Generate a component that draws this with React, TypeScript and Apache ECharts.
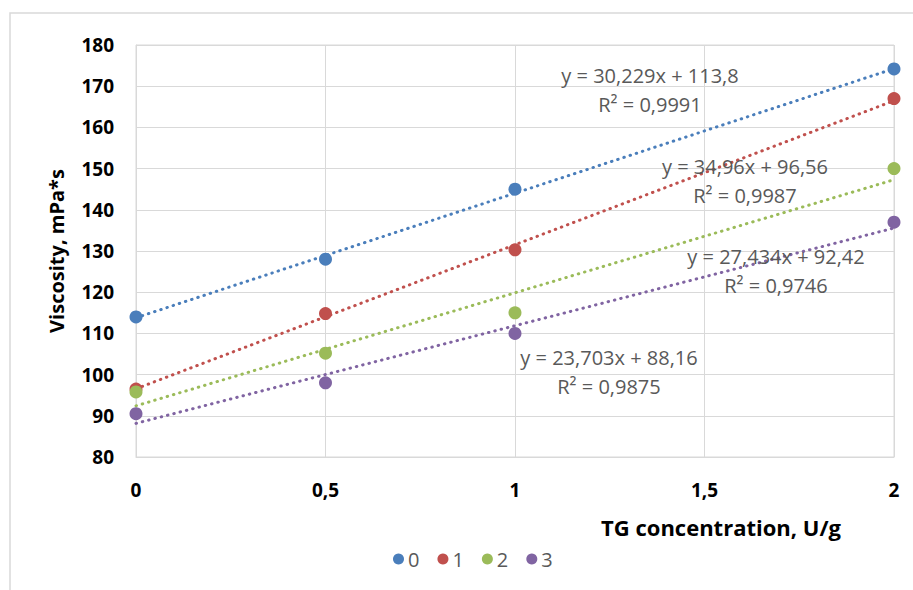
import React, { useEffect, useRef } from "react";
import * as echarts from "echarts";

const seriesNames = ["0", "1", "2", "3"];
const colors = ["#4a7ebb", "#c0504d", "#9bbb59", "#8064a2"];
const xValues = [0, 0.5, 1, 2];
const viscosity0 = [114, 128, 145, 174.2];
const viscosity1 = [96.5, 114.8, 130.3, 167];
const viscosity2 = [95.8, 105.2, 115, 150];
const viscosity3 = [90.5, 98, 110, 137];
const trendStart = [113.8, 96.56, 92.42, 88.16];
const trendEnd = [174.26, 166.48, 147.29, 135.57];
const equations = [
  "y = 30,229x + 113,8",
  "y = 34,96x + 96,56",
  "y = 27,434x + 92,42",
  "y = 23,703x + 88,16",
];
const r2Labels = ["R² = 0,9991", "R² = 0,9987", "R² = 0,9746", "R² = 0,9875"];
const xTickLabels: Record<string, string> = { "0": "0", "0.5": "0,5", "1": "1", "1.5": "1,5", "2": "2" };

const labelPos = [
  [650, 75],
  [745, 166],
  [776, 256],
  [609, 357],
];

export default function App() {
  const ref = useRef<HTMLDivElement>(null);
  useEffect(() => {
    if (!ref.current) return;
    const chart = echarts.init(ref.current, undefined, { renderer: "svg" });
    const all = [viscosity0, viscosity1, viscosity2, viscosity3];
    const font = "'Open Sans', sans-serif";
    const trendSeries = all.map((_, i) => ({
      name: "trend" + i,
      type: "line",
      data: [
        [xValues[0], trendStart[i]],
        [xValues[xValues.length - 1], trendEnd[i]],
      ],
      symbol: "none",
      lineStyle: { color: colors[i], width: 3, type: [0.5, 6], cap: "round" },
      z: 2,
      silent: true,
    }));
    const scatterSeries = all.map((vals, i) => ({
      name: seriesNames[i],
      type: "scatter",
      data: vals.map((v, j) => [xValues[j], v]),
      symbol: "circle",
      symbolSize: 13,
      itemStyle: { color: colors[i], opacity: 1 },
      z: 3,
    }));
    const graphics: any[] = [
      {
        type: "rect",
        shape: { x: 10, y: 13, width: 940, height: 620 },
        style: { fill: "none", stroke: "#d9d9d9", lineWidth: 1.5 },
        silent: true,
      },
      {
        type: "text",
        x: 721,
        y: 527,
        style: {
          text: "TG concentration, U/g",
          font: `bold 22px ${font}`,
          fill: "#000",
          align: "center",
          verticalAlign: "middle",
        },
      },
    ];
    equations.forEach((eq, i) => {
      graphics.push({
        type: "text",
        x: labelPos[i][0],
        y: labelPos[i][1],
        style: { text: eq, font: `20px ${font}`, fill: "#595959", align: "center", verticalAlign: "middle" },
        z: 10,
      });
      graphics.push({
        type: "text",
        x: labelPos[i][0],
        y: labelPos[i][1] + 29,
        style: { text: r2Labels[i], font: `20px ${font}`, fill: "#595959", align: "center", verticalAlign: "middle" },
        z: 10,
      });
    });
    chart.setOption({
      animation: false,
      backgroundColor: "#fff",
      grid: { left: 136, top: 45, width: 758, height: 412, show: true, borderColor: "#d9d9d9", borderWidth: 1 },
      legend: {
        data: seriesNames.map((n) => ({ name: n, icon: "circle" })),
        left: 388,
        top: 544,
        itemWidth: 11,
        itemHeight: 11,
        itemGap: 18,
        textStyle: { fontSize: 20, color: "#595959", fontFamily: font, padding: [0, 0, 0, -1] },
      },
      xAxis: {
        type: "value",
        min: 0,
        max: 2,
        interval: 0.5,
        axisLine: { show: true, lineStyle: { color: "#d9d9d9" } },
        axisTick: { show: false },
        splitLine: { show: true, lineStyle: { color: "#d9d9d9", width: 1 } },
        axisLabel: {
          margin: 23,
          fontSize: 19,
          fontWeight: "bold",
          color: "#000",
          fontFamily: font,
          formatter: (v: number) => xTickLabels[String(v)] ?? String(v),
        },
      },
      yAxis: {
        type: "value",
        min: 80,
        max: 180,
        interval: 10,
        name: "Viscosity, mPa*s",
        nameLocation: "middle",
        nameGap: 70,
        nameTextStyle: { fontSize: 20, fontWeight: "bold", color: "#000", fontFamily: font },
        axisLine: { show: true, lineStyle: { color: "#d9d9d9" } },
        axisTick: { show: false },
        splitLine: { show: true, lineStyle: { color: "#d9d9d9", width: 1 } },
        axisLabel: { margin: 22, fontSize: 19, fontWeight: "bold", color: "#000", fontFamily: font },
      },
      graphic: graphics,
      series: [...trendSeries, ...scatterSeries],
    });
    return () => chart.dispose();
  }, []);
  return (
    <div
      ref={ref}
      style={{ position: "fixed", left: 0, top: 0, width: 913, height: 590, background: "#fff" }}
    />
  );
}
